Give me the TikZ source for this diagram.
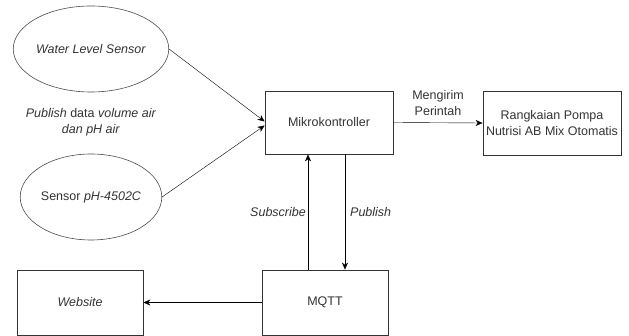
\documentclass[tikz,border=0pt]{standalone}
\usepackage{fontspec}
\setmainfont{Liberation Sans}
\usetikzlibrary{arrows.meta,shapes.geometric}
\tikzset{
  blok/.style={draw=black!80, thick, rectangle, align=center,
    minimum width=126pt, minimum height=64pt, inner sep=2pt},
  sensor/.style={draw=black!70, semithick, ellipse,
    minimum width=128pt, minimum height=86pt, inner sep=0pt},
  label/.style={align=center, inner sep=2pt},
}
\begin{document}
\begin{tikzpicture}[x=1pt,y=-1pt,>={Stealth[length=7pt,width=6pt]},
  font=\fontsize{12.5}{16}\selectfont, text=black!80]
\useasboundingbox (0,0) rectangle (629,336);
\node[sensor] (wls) at (91,49) {\textit{Water Level Sensor}};
\node[sensor] (ph) at (91,197) {Sensor \textit{pH-4502C}};
\node[label] (pubdata) at (91,122)
{\textit{Publish} data \textit{volume air}\\\textit{dan pH air}};
\node[blok, minimum width=128pt, minimum height=63pt] (mk) at (329,122.5) {Mikrokontroller};
\node[blok, minimum width=138pt] (pompa) at (552,123)
{Rangkaian Pompa\\Nutrisi AB Mix Otomatis};
\node[blok, minimum height=65pt] (mqtt) at (325,302.5) {MQTT};
\node[blok, minimum height=65pt] (web) at (80,302.5) {\textit{Website}};
\draw[->] (wls.east) -- ([yshift=1pt]mk.west);
\draw[->] (ph.east) -- ([yshift=-3pt]mk.west);
\draw[->] (mk.east) -- node[label, above=5pt] (perintah) {Mengirim\\Perintah} (pompa.west);
\draw[->] ([xshift=-17pt]mqtt.north) -- node[label, left] (sub) {\textit{Subscribe}}
  ([xshift=-17pt]mqtt.north |- mk.south);
\draw[->] ([xshift=16pt]mk.south) -- node[label, right=3pt] (pub) {\textit{Publish}}
  ([xshift=16pt]mk.south |- mqtt.north);
\draw[->] (mqtt.west) -- (web.east);
\end{tikzpicture}
\end{document}
